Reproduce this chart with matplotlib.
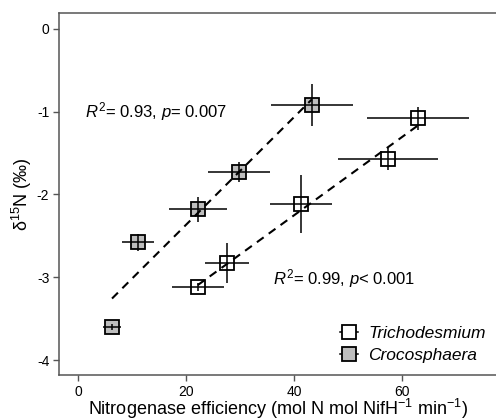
import numpy as np
import matplotlib
matplotlib.use("Agg")
from matplotlib import pyplot as plt
from matplotlib.lines import Line2D

plt.rcParams["font.family"] = ["Liberation Sans", "DejaVu Sans"]
plt.rcParams["mathtext.fontset"] = "custom"
plt.rcParams["mathtext.rm"] = "Liberation Sans"
plt.rcParams["mathtext.it"] = "Liberation Sans:italic"

# Trichodesmium
tri_x = [22.2, 27.6, 41.3, 57.4, 63.0]
tri_y = [-3.12, -2.83, -2.12, -1.57, -1.08]
tri_xerr = [4.8, 4.0, 5.7, 9.3, 9.4]
tri_yerr = [0.05, 0.24, 0.35, 0.13, 0.14]

# Crocosphaera
cro_x = [6.3, 11.1, 22.2, 29.8, 43.3]
cro_y = [-3.60, -2.58, -2.18, -1.73, -0.92]
cro_xerr = [1.7, 2.9, 5.4, 5.8, 7.6]
cro_yerr = [0.04, 0.10, 0.15, 0.12, 0.25]

series = [
    ("Trichodesmium", tri_x, tri_y, tri_xerr, tri_yerr, "white"),
    ("Crocosphaera", cro_x, cro_y, cro_xerr, cro_yerr, "#bebebe"),
]


def main():
    fig = plt.figure(figsize=(4.96, 4.2), dpi=100)
    ax = fig.add_axes([59 / 496, 45 / 420, 438 / 496, 362 / 420])

    handles = []
    for name, x, y, xerr, yerr, fc in series:
        x = np.array(x)
        y = np.array(y)
        ax.plot(x, y, "s", ms=10, mfc=fc, mec="black", mew=1.3, zorder=2)
        ax.errorbar(x, y, xerr=xerr, yerr=yerr, fmt="none", ecolor="black",
                    elinewidth=1.1, capsize=0, zorder=3)
        slope, icpt = np.polyfit(x, y, 1)
        xs = np.array([x.min(), x.max()])
        ax.plot(xs, slope * xs + icpt, "--", color="black", lw=1.5,
                dashes=(4, 3), zorder=4)
        h = (Line2D([], [], color="black", lw=1.1),
             Line2D([], [], ls="none", marker="s", ms=10, mfc=fc,
                    mec="black", mew=1.3))
        handles.append(h)

    ax.text(1.3, -1.0, r"$R^2$= 0.93, $p$= 0.007", fontsize=12, va="center")
    ax.text(36.1, -3.01, r"$R^2$= 0.99, $p$< 0.001", fontsize=12, va="center")

    ax.legend(handles, ["Trichodesmium", "Crocosphaera"],
              loc="lower right", bbox_to_anchor=(1.01, -0.01),
              frameon=False, handlelength=1.0, handletextpad=0.6,
              labelspacing=0.4, prop={"style": "italic", "size": 12.5})

    ax.set_xlim(-3.52, 77.6)
    ax.set_ylim(-4.18, 0.19)
    ax.set_xticks([0, 20, 40, 60])
    ax.set_yticks([0, -1, -2, -3, -4])
    ax.set_yticklabels(["0", "-1", "-2", "-3", "-4"])
    for s in ["left", "bottom", "top"]:
        ax.spines[s].set_color("#555555")
        ax.spines[s].set_linewidth(1.1)
    ax.spines["right"].set_visible(False)
    ax.tick_params(length=4, width=1, color="#555555", labelsize=10,
                   labelcolor="black", direction="out", pad=3)

    ax.set_xlabel(r"Nitrogenase efficiency (mol N mol NifH$^{-1}$ min$^{-1}$)",
                  fontsize=13, labelpad=-1)
    ax.set_ylabel(r"$\mathrm{\delta}^{15}$N (‰)", fontsize=13, labelpad=2)

    fig.savefig("out.png", dpi=100)


if __name__ == '__main__':
    main()
